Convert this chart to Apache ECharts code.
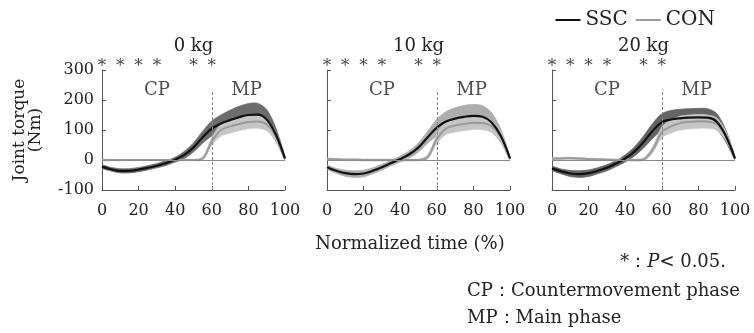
<!DOCTYPE html>
<html>
<head>
<meta charset="utf-8">
<script src="https://cdn.jsdelivr.net/npm/echarts@6/dist/echarts.min.js"></script>
<style>
html,body{margin:0;padding:0;background:#fff;}
#chart{width:754px;height:333px;}
</style>
</head>
<body>
<div id="chart"></div>
<script>
// ---------- data ----------
const time = [0,5,10,15,20,25,30,35,40,45,50,55,60,65,70,75,80,85,90,95,100];
const panelTitles = ['0 kg','10 kg','20 kg'];
const sigTimes = [0,10,20,30,50,60];
const phaseNames = ['CP','MP'];
const phaseBoundary = 60;

// 0 kg
const ssc0Mean = [-22,-31,-36,-36,-32,-26,-19,-10,1,17,42,76,105,122,133,143,150,151,135,85,5];
const ssc0Sd   = [5,6,7,7,7,7,7,8,8,12,15,20,25,28,33,36,38,38,33,22,5];
const con0Mean = [0,0,0,0,0,0,0,0,0,0,0,5,62,100,112,120,127,128,118,78,5];
const con0Sd   = [2,2,2,2,2,2,2,2,2,2,2,5,12,20,22,22,22,22,20,15,4];
// 10 kg
const ssc10Mean = [-24,-36,-44,-47,-45,-36,-24,-10,3,19,42,76,108,128,138,144,147,144,125,80,5];
const ssc10Sd   = [6,8,10,11,11,10,9,9,10,12,15,20,28,33,36,38,38,37,32,22,5];
const con10Mean = [3,2,1,1,0,0,0,0,0,0,0,10,70,105,115,120,124,123,112,78,5];
const con10Sd   = [3,3,3,3,3,3,3,3,3,3,3,6,15,20,22,22,22,22,20,15,4];
// 20 kg
const ssc20Mean = [-28,-38,-45,-47,-44,-36,-26,-12,5,28,60,97,126,135,139,141,142,141,128,80,5];
const ssc20Sd   = [6,8,10,11,11,10,10,10,12,15,20,25,28,30,30,30,30,30,27,20,5];
const con20Mean = [4,5,6,5,3,2,1,0,0,0,2,34,92,112,123,127,129,128,120,80,5];
const con20Sd   = [3,3,3,3,3,3,3,3,3,3,4,10,18,22,23,23,23,22,20,15,4];

const sscMeans = [ssc0Mean, ssc10Mean, ssc20Mean];
const sscSds = [ssc0Sd, ssc10Sd, ssc20Sd];
const conMeans = [con0Mean, con10Mean, con20Mean];
const conSds = [con0Sd, con10Sd, con20Sd];

// ---------- layout / style ----------
const FONT = 'DejaVu Serif';
const gridLefts = [102, 327, 552];
const gridW = 183, gridTop = 70, gridH = 120;
const sscBandColors = ['#6c6c6c', '#adadad', '#646464'];
const conBandColor = '#c6c6c6';
const axisColor = '#555';

const pairs = (xs, ys) => xs.map((x, i) => [x, ys[i]]);

function bandSeries(p, mean, sd, color) {
  const rows = time.map((t, i) => [t, mean[i] - sd[i], mean[i] + sd[i]]);
  return {
    type: 'custom', xAxisIndex: p, yAxisIndex: p, silent: true, clip: true,
    data: rows, encode: { x: 0, y: [1, 2] },
    renderItem: function (params, api) {
      if (params.dataIndex !== 0) return null;
      const up = rows.map(r => api.coord([r[0], r[2]]));
      const lo = rows.map(r => api.coord([r[0], r[1]])).reverse();
      return {
        type: 'group',
        children: [
          { type: 'polygon', shape: { points: up.concat(lo), smooth: 0.3 }, style: { fill: color, stroke: color, lineWidth: 0.8 } }
        ]
      };
    }
  };
}

const grids = [], xAxes = [], yAxes = [], series = [], graphics = [];

for (let p = 0; p < 3; p++) {
  grids.push({ left: gridLefts[p], top: gridTop, width: gridW, height: gridH, containLabel: false });
  xAxes.push({
    gridIndex: p, type: 'value', min: 0, max: 100, interval: 20,
    axisLine: { onZero: false, lineStyle: { color: axisColor, width: 1 } },
    axisTick: { inside: true, length: 4, lineStyle: { color: axisColor } },
    axisLabel: { fontFamily: FONT, fontSize: 16, color: '#222', margin: 13 },
    splitLine: { show: false }
  });
  yAxes.push({
    gridIndex: p, type: 'value', min: -100, max: 300, interval: 100,
    axisLine: { show: true, lineStyle: { color: axisColor, width: 1 } },
    axisTick: { show: true, inside: true, length: 4, lineStyle: { color: axisColor } },
    axisLabel: { show: p === 0, fontFamily: FONT, fontSize: 16, color: '#222', margin: 8 },
    splitLine: { show: false },
    name: p === 0 ? 'Joint torque\n(Nm)' : '',
    nameLocation: 'middle', nameRotate: 90, nameGap: 58,
    nameTextStyle: { fontFamily: FONT, fontSize: 17, color: '#222', lineHeight: 16 }
  });

  const sm = sscMeans[p], ss = sscSds[p], cm = conMeans[p], cs = conSds[p];
  const common = { xAxisIndex: p, yAxisIndex: p, type: 'line', symbol: 'none', smooth: 0.35, silent: true };

  series.push(bandSeries(p, sm, ss, sscBandColors[p]));
  series.push(bandSeries(p, cm, cs, conBandColor));

  // CON mean (+ zero line and phase boundary)
  series.push(Object.assign({}, common, {
    name: 'CON', data: pairs(time, cm),
    itemStyle: { color: '#9a9a9a' },
    lineStyle: { color: '#9a9a9a', width: 2 },
    markLine: {
      silent: true, symbol: 'none', label: { show: false },
      data: [
        { yAxis: 0, lineStyle: { color: '#8a8a8a', width: 1, type: 'solid' } },
        [ { coord: [phaseBoundary, -100] }, { coord: [phaseBoundary, 235] } ]
      ],
      lineStyle: { color: '#888', width: 1, type: [3, 2] }
    }
  }));
  // SSC mean
  series.push(Object.assign({}, common, {
    name: 'SSC', data: pairs(time, sm),
    itemStyle: { color: '#111' },
    lineStyle: { color: '#111', width: 2.2 }
  }));
  // significance stars
  series.push({
    type: 'scatter', xAxisIndex: p, yAxisIndex: p, silent: true, clip: false,
    symbolSize: 0, data: sigTimes.map(t => [t, 300]),
    label: { show: true, position: 'inside', formatter: '*', offset: [0, -3],
             fontFamily: FONT, fontSize: 17, color: '#111' }
  });
  // phase labels
  series.push({
    type: 'scatter', xAxisIndex: p, yAxisIndex: p, silent: true, clip: false,
    symbolSize: 0, data: [[30, 233, phaseNames[0]], [79, 233, phaseNames[1]]],
    label: { show: true, position: 'inside', formatter: d => d.data[2],
             fontFamily: FONT, fontSize: 18, color: '#222' }
  });

  graphics.push({
    type: 'text', x: gridLefts[p] + gridW / 2, y: 46,
    style: { text: panelTitles[p], fontFamily: FONT, fontSize: 18, fill: '#222',
             textAlign: 'center', textVerticalAlign: 'middle' }
  });
}

graphics.push({
  type: 'text', x: 410, y: 244,
  style: { text: 'Normalized time (%)', fontFamily: FONT, fontSize: 18, fill: '#222',
           textAlign: 'center', textVerticalAlign: 'middle' }
});
graphics.push({
  type: 'text', x: 726, y: 262,
  style: {
    text: '{a|*：}{p|P}{a|< 0.05.}',
    textAlign: 'right', textVerticalAlign: 'middle',
    rich: {
      a: { fontFamily: FONT, fontSize: 18, fill: '#222', color: '#222' },
      p: { fontFamily: FONT, fontSize: 18, fontStyle: 'italic', fill: '#222', color: '#222' }
    }
  }
});
graphics.push({
  type: 'text', x: 467, y: 291,
  style: { text: 'CP：Countermovement phase', fontFamily: FONT, fontSize: 18, fill: '#222',
           textAlign: 'left', textVerticalAlign: 'middle' }
});
graphics.push({
  type: 'text', x: 467, y: 318,
  style: { text: 'MP：Main phase', fontFamily: FONT, fontSize: 18, fill: '#222',
           textAlign: 'left', textVerticalAlign: 'middle' }
});

const chart = echarts.init(document.getElementById('chart'), null, { renderer: 'canvas' });
chart.setOption({
  animation: false,
  backgroundColor: '#fff',
  legend: {
    data: [
      { name: 'SSC', icon: 'rect', itemStyle: { color: '#111' } },
      { name: 'CON', icon: 'rect', itemStyle: { color: '#9a9a9a' } }
    ],
    right: 34, top: 5, itemWidth: 25, itemHeight: 2, itemGap: 8,
    textStyle: { fontFamily: FONT, fontSize: 20, color: '#222' },
    selectedMode: false
  },
  grid: grids, xAxis: xAxes, yAxis: yAxes, series: series, graphic: graphics
});
</script>
</body>
</html>
